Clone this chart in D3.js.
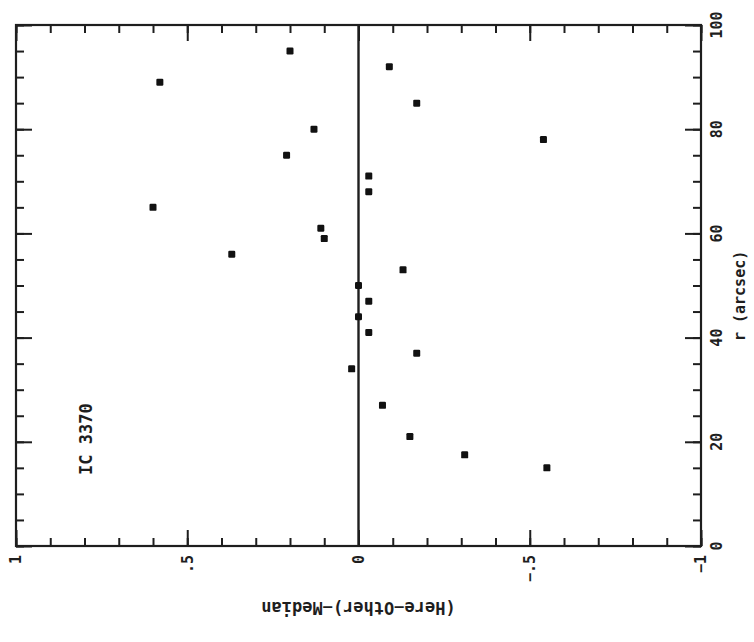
<!DOCTYPE html>
<html><head><meta charset="utf-8">
<script src="https://cdn.jsdelivr.net/npm/d3@7"></script>
<style>body{margin:0;background:#fff}svg{display:block}</style>
</head><body>
<script>
// Data (chart is drawn rotated: r runs vertically, value runs horizontally with 1 at left)
const rValues     = [95, 92, 89, 85, 80, 78, 75, 71, 68, 65, 61, 59, 56, 53, 50, 47, 44, 41, 37, 34, 27, 21, 17.5, 15];
const deltaValues = [0.20, -0.09, 0.58, -0.17, 0.13, -0.54, 0.21, -0.03, -0.03, 0.60, 0.11, 0.10, 0.37, -0.13, 0.00, -0.03, 0.00, -0.03, -0.17, 0.02, -0.07, -0.15, -0.31, -0.55];
const deltaMajorTicks = [1, 0.5, 0, -0.5, -1];
const deltaTickLabels = ["1", ".5", "0", "\u2212.5", "\u22121"];
const deltaMinorTicks = d3.range(-10, 11).map(d => d / 10);
const rMajorTicks = [0, 20, 40, 60, 80, 100];
const rTickLabels = ["0", "20", "40", "60", "80", "100"];
const rMinorTicks = d3.range(0, 101, 5);
const galaxyLabel = "IC 3370";
const rTitle = "r (arcsec)";
const deltaTitle = "(Here\u2212Other)\u2212Median";

const W = 754, H = 642;
const L = 16, R = 701, T = 25, B = 546;
const ink = "#1e1e1e";
const font = "'DejaVu Sans Mono', monospace";

const svg = d3.select("body").append("svg").attr("width", W).attr("height", H);
const x = d3.scaleLinear().domain([1, -1]).range([L, R]);
const y = d3.scaleLinear().domain([0, 100]).range([B, T]);

function styleAxis(g) {
  g.select(".domain").remove();
  g.selectAll("line").attr("stroke", ink).attr("stroke-width", 2);
}
const minorLen = 8, majorLen = 16;
// bottom & top ticks (inward)
svg.append("g").attr("transform", `translate(0,${B})`)
  .call(d3.axisBottom(x).tickValues(deltaMinorTicks).tickSize(-minorLen).tickFormat("")).call(styleAxis);
svg.append("g").attr("transform", `translate(0,${B})`)
  .call(d3.axisBottom(x).tickValues(deltaMajorTicks).tickSize(-majorLen).tickFormat("")).call(styleAxis);
svg.append("g").attr("transform", `translate(0,${T})`)
  .call(d3.axisTop(x).tickValues(deltaMinorTicks).tickSize(-minorLen).tickFormat("")).call(styleAxis);
svg.append("g").attr("transform", `translate(0,${T})`)
  .call(d3.axisTop(x).tickValues(deltaMajorTicks).tickSize(-majorLen).tickFormat("")).call(styleAxis);
// left & right ticks (inward)
svg.append("g").attr("transform", `translate(${L},0)`)
  .call(d3.axisLeft(y).tickValues(rMinorTicks).tickSize(-minorLen).tickFormat("")).call(styleAxis);
svg.append("g").attr("transform", `translate(${L},0)`)
  .call(d3.axisLeft(y).tickValues(rMajorTicks).tickSize(-majorLen).tickFormat("")).call(styleAxis);
svg.append("g").attr("transform", `translate(${R},0)`)
  .call(d3.axisRight(y).tickValues(rMinorTicks).tickSize(-minorLen).tickFormat("")).call(styleAxis);
svg.append("g").attr("transform", `translate(${R},0)`)
  .call(d3.axisRight(y).tickValues(rMajorTicks).tickSize(-majorLen).tickFormat("")).call(styleAxis);

// frame
svg.append("rect").attr("x", L).attr("y", T).attr("width", R - L).attr("height", B - T)
  .attr("fill", "none").attr("stroke", ink).attr("stroke-width", 2.2);

// zero line
svg.append("line").attr("x1", x(0)).attr("x2", x(0)).attr("y1", y(0)).attr("y2", y(100))
  .attr("stroke", ink).attr("stroke-width", 2.4);

// bottom tick labels (rotated)
svg.append("g").selectAll("text").data(deltaMajorTicks).join("text")
  .attr("transform", d => `translate(${x(d)},${B + 9}) rotate(-90)`)
  .attr("text-anchor", "end").attr("dy", "0.35em")
  .attr("font-family", font).attr("font-size", 15).attr("font-weight", "bold").attr("fill", ink)
  .text((d, i) => deltaTickLabels[i]);

// right tick labels (rotated)
svg.append("g").selectAll("text").data(rMajorTicks).join("text")
  .attr("transform", d => `translate(${R + 16},${y(d)}) rotate(-90)`)
  .attr("text-anchor", "middle").attr("dy", "0.35em")
  .attr("font-family", font).attr("font-size", 15).attr("font-weight", "bold").attr("fill", ink)
  .text((d, i) => rTickLabels[i]);

// axis titles
svg.append("text").attr("transform", `translate(740,${y(48)}) rotate(-90)`)
  .attr("text-anchor", "middle").attr("dy", "0.35em")
  .attr("font-family", font).attr("font-size", 15).attr("font-weight", "bold").attr("fill", ink).text(rTitle);
svg.append("text").attr("transform", `translate(${x(0)},608) rotate(180)`)
  .attr("text-anchor", "middle").attr("dy", "0.35em")
  .attr("font-family", font).attr("font-size", 17).attr("font-weight", "bold").attr("fill", ink).text(deltaTitle);

// galaxy label
svg.append("text").attr("transform", `translate(86,${y(20.5)}) rotate(-90)`)
  .attr("text-anchor", "middle").attr("dy", "0.35em")
  .attr("font-family", font).attr("font-size", 17).attr("font-weight", "bold").attr("fill", ink).text(galaxyLabel);

// points
const pts = rValues.map((r, i) => ({ r, v: deltaValues[i] }));
svg.append("g").selectAll("rect").data(pts).join("rect")
  .attr("x", d => x(d.v) - 3.5).attr("y", d => y(d.r) - 3.5)
  .attr("width", 7).attr("height", 7).attr("rx", 1.2)
  .attr("fill", "#111");
</script>
</body></html>
